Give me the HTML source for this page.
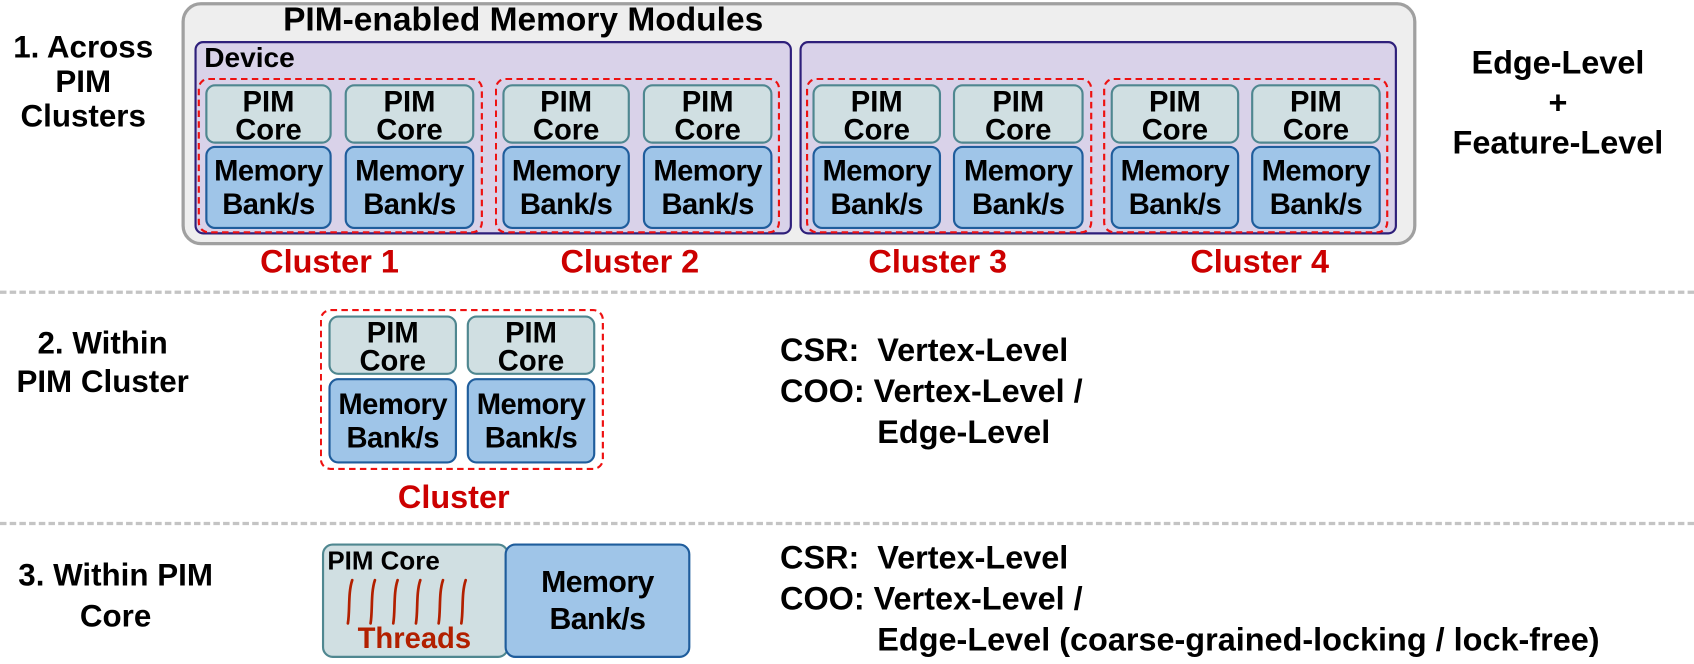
<!DOCTYPE html>
<html><head><meta charset="utf-8"><style>
body{margin:0;width:1694px;height:664px;background:#fff;position:relative;overflow:hidden;font-family:"Liberation Sans","DejaVu Sans",sans-serif;font-weight:bold;color:#000}
#w{position:absolute;left:0;top:0;width:1568px;height:615px;transform:scale(1.0804);transform-origin:0 0}
div{position:absolute;box-sizing:border-box}
.core{background:#d0dfe2;border:2.5px solid #4f8790;border-radius:9px;display:flex;align-items:center;justify-content:center;text-align:center;font-size:27px;line-height:26px;padding-top:2px}
.bank{background:#9fc5e8;border:2.5px solid #1f5d9c;border-radius:9px;display:flex;align-items:center;justify-content:center;text-align:center;font-size:27px;line-height:31px;letter-spacing:-0.5px}
.cl{border:2.5px dashed #ee1111;border-radius:10px}
.red{color:#cc0000;font-size:30px;text-align:center;width:240px}
.t{font-size:29px;line-height:32px;white-space:nowrap}
.r{font-size:30px}
.hr{left:0;width:1568px;height:0;border-top:3px dashed #c4c4c4}
</style></head><body><div id="w">
<div style="left:168px;top:2px;width:1143px;height:225px;background:#eeeeee;border:3px solid #a0a0a0;border-radius:18px"></div>
<div class="t" style="left:262px;top:2px;font-size:31px">PIM-enabled Memory Modules</div>
<div style="left:180px;top:38px;width:553px;height:179px;background:#d9d2e9;border:2.5px solid #2e1f7a;border-radius:8px"></div>
<div style="left:740px;top:38px;width:553px;height:179px;background:#d9d2e9;border:2.5px solid #2e1f7a;border-radius:8px"></div>
<div class="t" style="left:189px;top:37px;font-size:26px">Device</div>

<div class="cl" style="left:183px;top:72px;width:264px;height:144px"></div>
<div class="cl" style="left:458px;top:72px;width:264px;height:144px"></div>
<div class="cl" style="left:746px;top:72px;width:265px;height:144px"></div>
<div class="cl" style="left:1021px;top:72px;width:264px;height:144px"></div>

<div class="core" style="left:190px;top:78px;width:117px;height:55px">PIM<br>Core</div>
<div class="core" style="left:319px;top:78px;width:120px;height:55px">PIM<br>Core</div>
<div class="core" style="left:465px;top:78px;width:118px;height:55px">PIM<br>Core</div>
<div class="core" style="left:595px;top:78px;width:120px;height:55px">PIM<br>Core</div>
<div class="core" style="left:752px;top:78px;width:119px;height:55px">PIM<br>Core</div>
<div class="core" style="left:882px;top:78px;width:121px;height:55px">PIM<br>Core</div>
<div class="core" style="left:1028px;top:78px;width:119px;height:55px">PIM<br>Core</div>
<div class="core" style="left:1158px;top:78px;width:120px;height:55px">PIM<br>Core</div>

<div class="bank" style="left:190px;top:135px;width:117px;height:77px">Memory<br>Bank/s</div>
<div class="bank" style="left:319px;top:135px;width:120px;height:77px">Memory<br>Bank/s</div>
<div class="bank" style="left:465px;top:135px;width:118px;height:77px">Memory<br>Bank/s</div>
<div class="bank" style="left:595px;top:135px;width:120px;height:77px">Memory<br>Bank/s</div>
<div class="bank" style="left:752px;top:135px;width:119px;height:77px">Memory<br>Bank/s</div>
<div class="bank" style="left:882px;top:135px;width:121px;height:77px">Memory<br>Bank/s</div>
<div class="bank" style="left:1028px;top:135px;width:119px;height:77px">Memory<br>Bank/s</div>
<div class="bank" style="left:1158px;top:135px;width:120px;height:77px">Memory<br>Bank/s</div>

<div class="red" style="left:185px;top:226px">Cluster 1</div>
<div class="red" style="left:463px;top:226px">Cluster 2</div>
<div class="red" style="left:748px;top:226px">Cluster 3</div>
<div class="red" style="left:1046px;top:226px">Cluster 4</div>

<div class="t" style="left:-10px;top:28px;width:174px;text-align:center">1. Across<br>PIM<br>Clusters</div>
<div class="t r" style="left:1320px;top:40px;width:244px;text-align:center;line-height:37px">Edge-Level<br>+<br>Feature-Level</div>

<div class="hr" style="top:269px"></div>

<div class="t" style="left:-10px;top:300px;width:210px;text-align:center;line-height:36px">2. Within<br>PIM Cluster</div>
<div class="cl" style="left:296px;top:286px;width:263px;height:149px"></div>
<div class="core" style="left:304px;top:292px;width:119px;height:55px">PIM<br>Core</div>
<div class="core" style="left:432px;top:292px;width:119px;height:55px">PIM<br>Core</div>
<div class="bank" style="left:304px;top:350px;width:119px;height:79px">Memory<br>Bank/s</div>
<div class="bank" style="left:432px;top:350px;width:119px;height:79px">Memory<br>Bank/s</div>
<div class="red" style="left:300px;top:444px">Cluster</div>
<div class="t r" style="left:722px;top:306px;line-height:38px">CSR:&nbsp; Vertex-Level<br>COO: Vertex-Level /<br><span style="padding-left:90px">Edge-Level</span></div>

<div class="hr" style="top:483px"></div>

<div class="t" style="left:-10px;top:514px;width:234px;text-align:center;line-height:38px">3. Within PIM<br>Core</div>
<div style="left:298px;top:503px;width:173px;height:106px;background:#d0dfe2;border:2.5px solid #4f8790;border-radius:10px"></div>
<div class="t" style="left:303px;top:504px;font-size:24px">PIM Core</div>
<svg style="position:absolute;left:318px;top:535px" width="130" height="44" viewBox="0 0 130 44">
<g fill="none" stroke="#b22000" stroke-width="2.5" stroke-linecap="round">
<path d="M8 2 C4 14 6 30 4 42"/><path d="M29 2 C25 14 27 30 25 42"/><path d="M50 2 C46 14 48 30 46 42"/><path d="M71 2 C67 14 69 30 67 42"/><path d="M92 2 C88 14 90 30 88 42"/><path d="M113 2 C109 14 111 30 109 42"/>
</g></svg>
<div class="t" style="left:331px;top:575px;font-size:27px;color:#b22000">Threads</div>
<div class="bank" style="left:467px;top:503px;width:172px;height:106px;border-radius:10px;font-size:28px;line-height:34px">Memory<br>Bank/s</div>
<div class="t r" style="left:722px;top:498px;line-height:38px">CSR:&nbsp; Vertex-Level<br>COO: Vertex-Level /<br><span style="padding-left:90px">Edge-Level (coarse-grained-locking / lock-free)</span></div>
</div></body></html>
